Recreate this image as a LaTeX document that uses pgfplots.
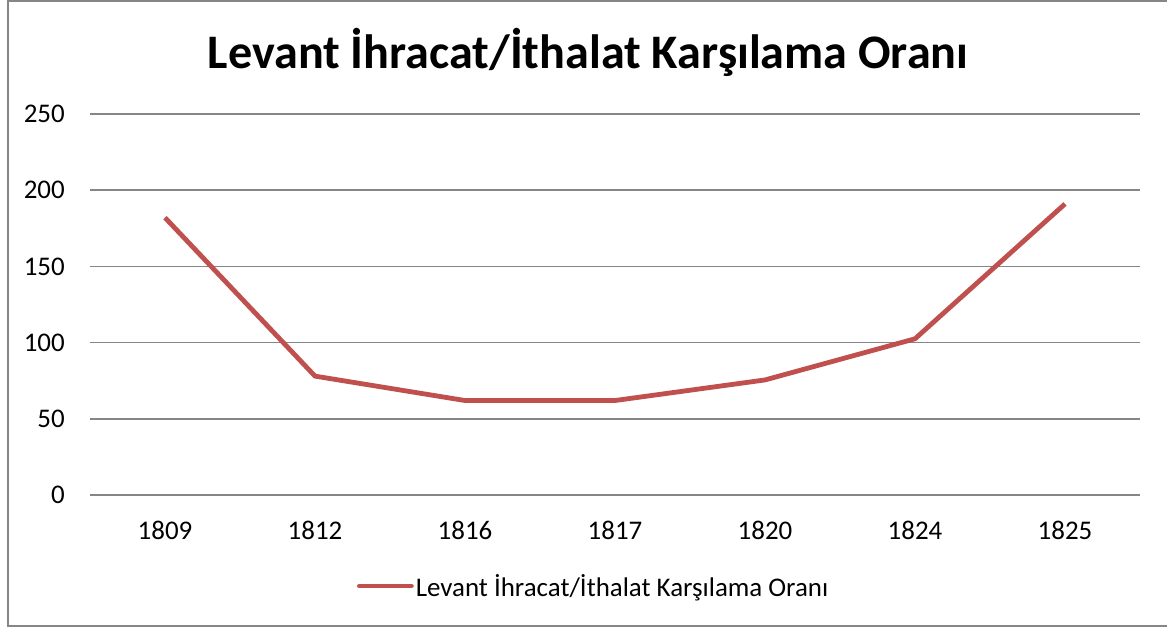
\documentclass[border=0pt]{standalone}
\usepackage{fontspec}
\setmainfont{Carlito}
\usepackage{pgfplots}
\pgfplotsset{compat=1.18}
\definecolor{linered}{HTML}{C0504D}
\definecolor{gridgray}{HTML}{868686}
\begin{document}
\begin{tikzpicture}
\begin{scope}[x=0.75pt,y=-0.75pt]
\useasboundingbox (0,0) rectangle (1167,628);
\draw[gridgray, line width=1.5pt] (1167,1) -- (7.5,1) -- (7.5,626) -- (1167,626);
\node[anchor=base, font=\fontsize{36.1}{40}\selectfont\bfseries, inner sep=0pt] at (588,68) {Levant İhracat/İthalat Karşılama Oranı};
\end{scope}
\begin{axis}[
  at={(67.5pt,-371.25pt)}, anchor=south west,
  scale only axis, width=787.5pt, height=285.75pt,
  xmin=-0.5, xmax=6.5, ymin=0, ymax=250,
  xtick={0,1,2,3,4,5,6},
  xticklabels={1809,1812,1816,1817,1820,1824,1825},
  ytick={0,50,100,150,200,250},
  axis line style={draw=none},
  ymajorgrids, grid style={gridgray, line width=1.1pt},
  major tick length=0pt,
  tick label style={font=\fontsize{20.2}{23}\selectfont},
  /pgf/number format/assume math mode=true,
  xticklabel style={anchor=center, inner sep=0pt, yshift=-26.25pt},
  yticklabel style={anchor=east, inner sep=0pt, xshift=-18.75pt},
  clip=false,
  legend style={at={(0.254,-0.239)}, anchor=west, draw=none, fill=none, inner sep=0pt,
    font=\fontsize{20.2}{23}\selectfont, nodes={inner sep=1.5pt}},
  legend image code/.code={\draw[#1, line cap=round] (0pt,0pt) -- (39pt,0pt);},
]
\draw[gridgray, line width=1.1pt] (axis cs:-0.5,0) -- (axis cs:6.5,0);
\addplot[linered, line width=3.6pt, line join=round] coordinates {
(0,182) (1,78) (2,62) (3,62) (4,75.5) (5,102.5) (6,191)
};
\addlegendentry{Levant İhracat/İthalat Karşılama Oranı}
\end{axis}
\end{tikzpicture}
\end{document}
